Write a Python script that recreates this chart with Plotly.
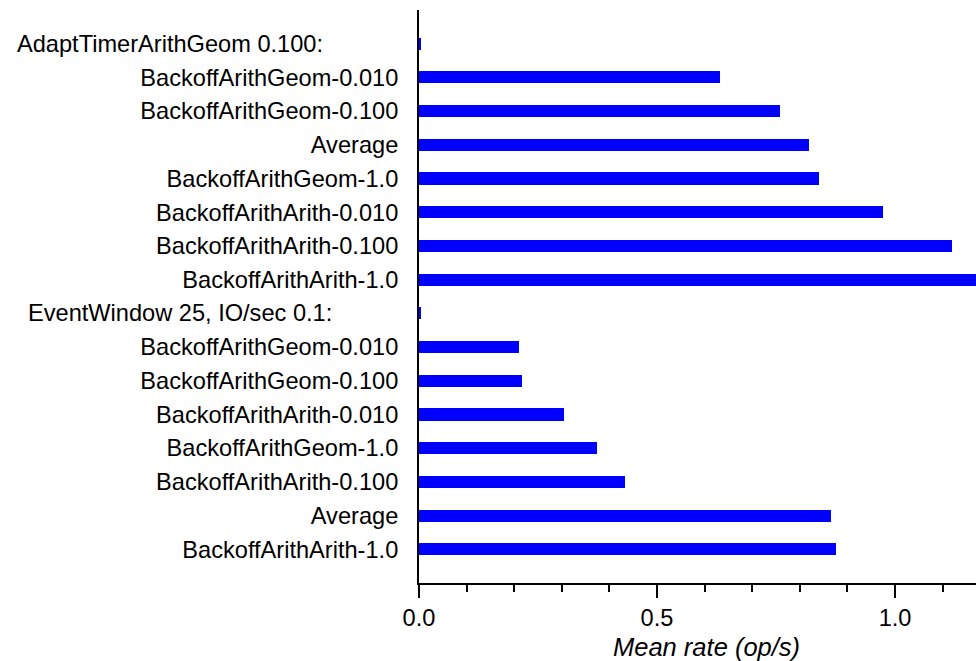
import plotly.graph_objects as go

# Rows listed top to bottom; group headers carry a near-zero bar.
header_1 = "AdaptTimerArithGeom 0.100:"
header_2 = "EventWindow 25, IO/sec 0.1:"

group_1_labels = [
    "BackoffArithGeom-0.010",
    "BackoffArithGeom-0.100",
    "Average",
    "BackoffArithGeom-1.0",
    "BackoffArithArith-0.010",
    "BackoffArithArith-0.100",
    "BackoffArithArith-1.0",
]
group_1_rates = [0.632, 0.759, 0.820, 0.840, 0.975, 1.120, 1.250]

group_2_labels = [
    "BackoffArithGeom-0.010",
    "BackoffArithGeom-0.100",
    "BackoffArithArith-0.010",
    "BackoffArithGeom-1.0",
    "BackoffArithArith-0.100",
    "Average",
    "BackoffArithArith-1.0",
]
group_2_rates = [0.209, 0.216, 0.304, 0.373, 0.433, 0.866, 0.876]

header_rate = 0.004

x_tick_values = [0.0, 0.5, 1.0]
x_tick_labels = ["0.0", "0.5", "1.0"]
x_title = "Mean rate (op/s)"

labels = [header_1] + group_1_labels + [header_2] + group_2_labels
rates = [header_rate] + group_1_rates + [header_rate] + group_2_rates
rows = list(range(len(labels)))
tick_text = ["" if lab in (header_1, header_2) else lab for lab in labels]

FONT = "Liberation Sans, Arial, sans-serif"
W, H = 976, 661
L, R, T, B = 419, 0, 10, 78
plot_w = W - L - R
plot_h = H - T - B

fig = go.Figure(
    go.Bar(
        x=rates,
        y=rows,
        orientation="h",
        width=0.36,
        marker=dict(color="#0000ff", line=dict(width=0)),
        hoverinfo="x+text",
        text=labels,
        textposition="none",
    )
)

fig.update_layout(
    width=W,
    height=H,
    margin=dict(l=L, r=R, t=T, b=B, pad=0),
    paper_bgcolor="white",
    plot_bgcolor="white",
    showlegend=False,
    font=dict(family=FONT, size=23.6, color="black"),
    bargap=0,
)

fig.update_xaxes(
    range=[0, 1.170],
    tickvals=x_tick_values,
    ticktext=x_tick_labels,
    ticks="outside",
    ticklen=13,
    tickwidth=2,
    tickcolor="black",
    minor=dict(dtick=0.1, tick0=0, ticks="outside", ticklen=7, tickwidth=2, tickcolor="black", showgrid=False),
    showline=True,
    linewidth=2,
    linecolor="black",
    showgrid=False,
    zeroline=False,
    tickfont=dict(family=FONT, size=23.6, color="black"),
)

fig.update_yaxes(
    range=[len(labels), -1],
    tickvals=rows,
    ticktext=tick_text,
    ticks="",
    showline=True,
    linewidth=2,
    linecolor="black",
    showgrid=False,
    zeroline=False,
    tickfont=dict(family=FONT, size=23.6, color="black"),
    ticklabelstandoff=14,
)

# Group headers, left-set in the label column
for text, row, left_px in [(header_1, 0, 15), (header_2, 8, 26)]:
    fig.add_annotation(
        text=text,
        xref="paper",
        x=(left_px - L) / plot_w,
        xanchor="left",
        yref="y",
        y=row,
        yanchor="middle",
        showarrow=False,
        font=dict(family=FONT, size=23.6, color="black"),
    )

# Axis title
fig.add_annotation(
    text=f"<i>{x_title}</i>",
    xref="paper",
    x=(706 - L) / plot_w,
    xanchor="center",
    yref="paper",
    y=-(647 - (T + plot_h)) / plot_h,
    yanchor="middle",
    showarrow=False,
    font=dict(family=FONT, size=25.5, color="black"),
)

fig.write_html("out.html")
